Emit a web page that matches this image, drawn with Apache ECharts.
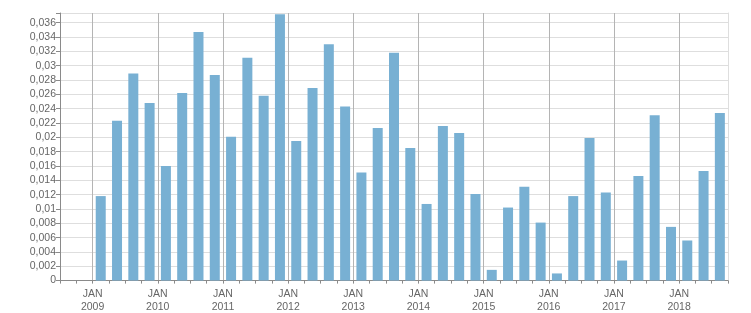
<!DOCTYPE html>
<html>
<head>
<meta charset="utf-8">
<script src="https://cdn.jsdelivr.net/npm/echarts@6/dist/echarts.min.js"></script>
<style>html,body{margin:0;padding:0;background:#fff}#c{width:751px;height:313px}</style>
</head>
<body>
<div id="c"></div>
<script>
// Quarterly categories from 2008 Q3 to 2018 Q3
const quarters = [];
for (let y = 2008; y <= 2018; y++) for (let q = 1; q <= 4; q++) {
  if ((y === 2008 && q < 3) || (y === 2018 && q > 3)) continue;
  quarters.push(y + ' Q' + q);
}
// Values (first two quarters of 2008 empty)
const values = [null, null,
  0.0118, 0.0223, 0.0289, 0.0248,
  0.0160, 0.0262, 0.0347, 0.0287,
  0.0201, 0.0311, 0.0258, 0.0372,
  0.0195, 0.0269, 0.0330, 0.0243,
  0.0151, 0.0213, 0.0318, 0.0185,
  0.0107, 0.0216, 0.0206, 0.0121,
  0.0015, 0.0102, 0.0131, 0.0081,
  0.0010, 0.0118, 0.0199, 0.0123,
  0.0028, 0.0146, 0.0231, 0.0075,
  0.0056, 0.0153, 0.0234];
// Quarter boundaries (one more than quarters), labelled at January
const boundaries = [];
for (let i = 0; i <= quarters.length; i++) {
  const idx = i + 2; // months offset: index 0 = July 2008
  const year = 2008 + Math.floor(idx / 4);
  boundaries.push(idx % 4 === 0 ? 'JAN\n' + year : '');
}
const yMax = 0.03736;
const yInterval = 0.002;

const chart = echarts.init(document.getElementById('c'));
const font = 'Liberation Sans';
chart.setOption({
  animation: false,
  grid: {left: 60, top: 13, right: 23, bottom: 32, containLabel: false},
  xAxis: [{
    type: 'category', data: quarters, boundaryGap: true, position: 'bottom',
    axisLine: {show: false}, axisTick: {show: false}, axisLabel: {show: false}, splitLine: {show: false}
  }, {
    type: 'category', data: boundaries, boundaryGap: false, position: 'bottom',
    axisLine: {show: true, lineStyle: {color: '#8a8a8a', width: 1}},
    axisTick: {show: true, interval: 0, length: 3, lineStyle: {color: '#8a8a8a'}},
    axisLabel: {show: true, interval: 0, color: '#666', fontFamily: font, fontSize: 10.5, lineHeight: 12.7, margin: 7},
    splitLine: {show: true, interval: (i) => boundaries[i] !== '', lineStyle: {color: '#b4b4b4', width: 1}}
  }],
  yAxis: [{
    type: 'value', min: 0, max: yMax, interval: yInterval,
    axisLine: {show: true, lineStyle: {color: '#8a8a8a'}},
    axisTick: {show: true, length: 4, lineStyle: {color: '#8a8a8a'}},
    axisLabel: {color: '#666', fontFamily: font, fontSize: 10.5, margin: 4,
      formatter: (v) => {
        const r = v / yInterval;
        if (Math.abs(r - Math.round(r)) > 1e-6) return '';
        if (v === 0) return '0';
        return String(+v.toFixed(3)).replace('.', ',');
      }},
    splitLine: {show: true, lineStyle: {color: '#dedede'}}
  }, {
    type: 'value', min: 0, max: yMax, position: 'right',
    axisLine: {show: true, lineStyle: {color: '#dedede'}},
    axisTick: {show: false}, axisLabel: {show: false}, splitLine: {show: false}
  }],
  series: [{
    type: 'bar', xAxisIndex: 0, yAxisIndex: 0, data: values,
    barWidth: 10, itemStyle: {color: '#78b0d3'}
  }]
});
</script>
</body>
</html>
